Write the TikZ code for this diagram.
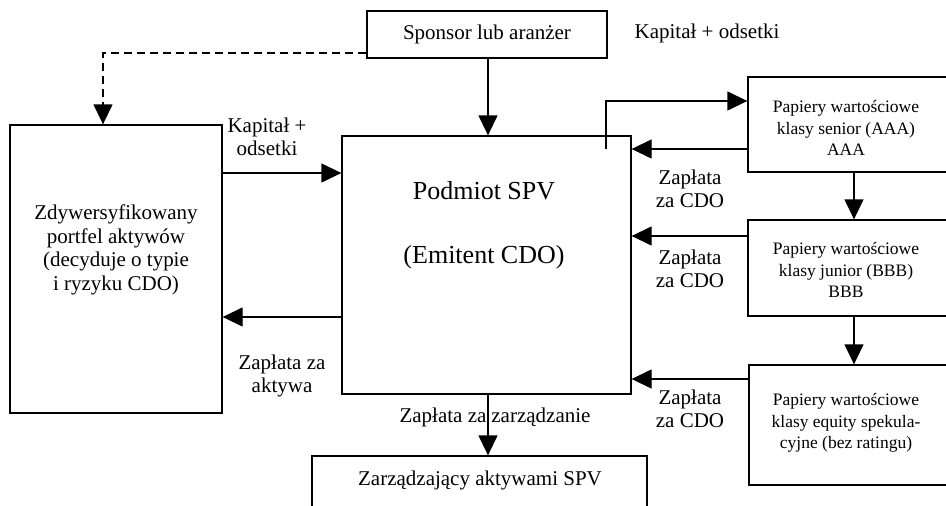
\documentclass[tikz,border=0pt]{standalone}
\usepackage{fontspec}
\setmainfont{Liberation Serif}
\usetikzlibrary{arrows.meta,calc}
\begin{document}
\begin{tikzpicture}[x=1pt,y=-1pt,
  box/.style={draw,line width=1.3pt,inner sep=0pt,align=center,font=\fontsize{21}{23.5}\selectfont},
  rtext/.style={align=center,inner sep=0pt,font=\fontsize{17.5}{21.5}\selectfont},
  arr/.style={line width=1.3pt,-{Triangle[length=20pt,width=19pt]}},
  lbl/.style={align=center,font=\fontsize{21}{23.5}\selectfont,inner sep=0pt}]
\clip (0,0) rectangle (946,506);
\fill[white] (0,0) rectangle (946,506);
\node[box,minimum width=240pt,minimum height=47pt] (sponsor) at (487,34.5) {Sponsor lub aranżer};
\node[box,minimum width=212pt,minimum height=288pt] (left) at (116,269) {};
\node[lbl] (lefttxt) at (116,250) {Zdywersyfikowany\\portfel aktywów\\(decyduje o typie\\i ryzyku CDO)};
\node[box,minimum width=289pt,minimum height=258pt] (spv) at (486.5,265) {};
\node[align=center,inner sep=0pt,font=\fontsize{26}{64}\selectfont] (spvtxt) at (484,225) {Podmiot SPV\\(Emitent CDO)};
\node[box,minimum width=230pt,minimum height=95pt] (senior) at (863,124.5) {};
\node[rtext] (seniortxt) at (846,128) {Papiery wartościowe\\klasy senior (AAA)\\AAA};
\node[box,minimum width=230pt,minimum height=96pt] (junior) at (863,268) {};
\node[rtext] (juniortxt) at (846,270) {Papiery wartościowe\\klasy junior (BBB)\\BBB};
\node[box,minimum width=230pt,minimum height=120pt] (equity) at (864,425) {};
\node[rtext] (equitytxt) at (846,423) {Papiery wartościowe\\klasy equity spekula-\\cyjne (bez ratingu)};
\node[box,minimum width=335pt,minimum height=80pt] (mgmt) at (479.5,496) {};
\node[lbl] (mgmttxt) at (480,480) {Zarządzający aktywami SPV};
% connectors
\draw[arr,dashed,dash pattern=on 8pt off 5pt] (sponsor.west |- 0,53) -| (left.north -| 103,0);
\draw[arr] ($(sponsor.south)+(1,0)$) -- ($(spv.north)+(1.5,0)$);
\draw[arr] (left.east |- 0,173) -- (spv.west |- 0,173);
\draw[arr] (spv.west |- 0,317) -- (left.east |- 0,317);
\coordinate (up1) at (606,149);
\draw[arr] (up1) |- (senior.west |- 0,101);
\draw[arr] (senior.west |- 0,149) -- (spv.east |- 0,149);
\draw[arr] (junior.west |- 0,236) -- (spv.east |- 0,236);
\draw[arr] (equity.west |- 0,379) -- (spv.east |- 0,379);
\draw[arr] (senior.south -| 854,0) -- (junior.north -| 854,0);
\draw[arr] (junior.south -| 854,0) -- (equity.north -| 854,0);
\draw[arr] (spv.south -| 488,0) -- (mgmt.north -| 488,0);
% labels
\node[lbl] (l1) at (707,33) {Kapitał + odsetki};
\node[lbl] (l2) at (267,137) {Kapitał +\\odsetki};
\node[lbl] (l3) at (282,376) {Zapłata za\\aktywa};
\node[lbl] (l4) at (690,189) {Zapłata\\za CDO};
\node[lbl] (l5) at (690,269) {Zapłata\\za CDO};
\node[lbl] (l6) at (690,409) {Zapłata\\za CDO};
\node[lbl] (l7) at (495,417) {Zapłata za\hspace{5pt}zarządzanie};
\end{tikzpicture}
\end{document}
